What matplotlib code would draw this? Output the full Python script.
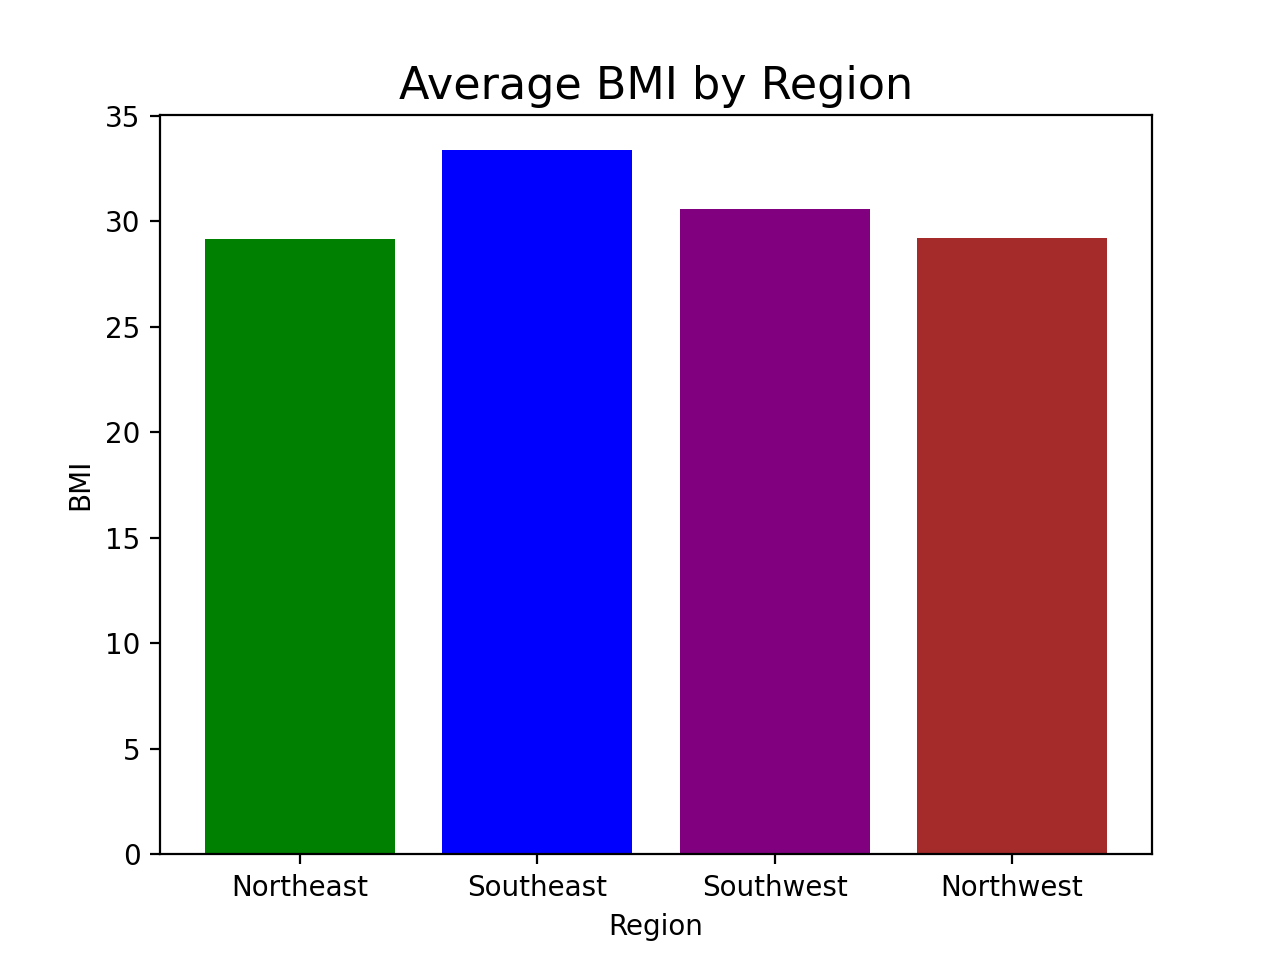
import matplotlib
matplotlib.use('Agg')
import matplotlib.pyplot as plt

# Average BMI per region
regions = ['Northeast', 'Southeast', 'Southwest', 'Northwest']
avg_bmi = [29.17, 33.36, 30.60, 29.20]
colors = ['green', 'blue', 'purple', 'brown']

plt.figure(figsize=(6.4, 4.8))
plt.bar(regions, avg_bmi, color=colors)
plt.title('Average BMI by Region', fontsize=16)
plt.xlabel('Region')
plt.ylabel('BMI')
plt.savefig('out.png', dpi=200)
